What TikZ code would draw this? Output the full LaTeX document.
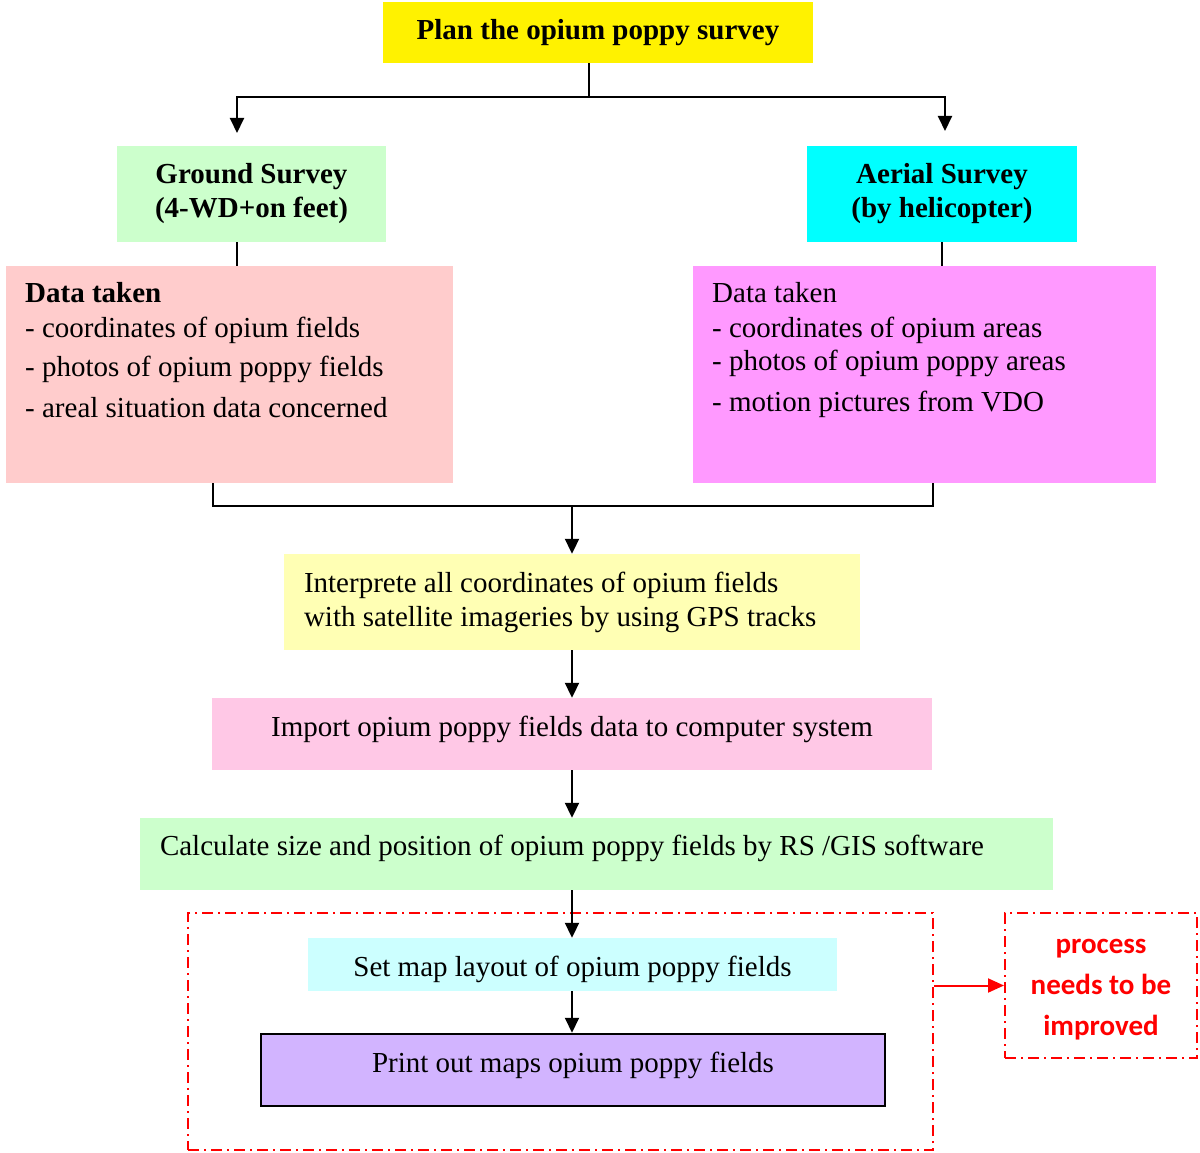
\documentclass[tikz,border=0pt]{standalone}
\usepackage{fontspec}
\setmainfont{Liberation Serif}
\newfontfamily\calibri{Carlito}
\usetikzlibrary{arrows.meta}

\definecolor{groundgreen}{HTML}{CCFFCC}
\definecolor{aerialcyan}{HTML}{00FFFF}
\definecolor{datapink}{HTML}{FFCCCC}
\definecolor{datamagenta}{HTML}{FF99FF}
\definecolor{interpyellow}{HTML}{FFFFB4}
\definecolor{importpink}{HTML}{FFC8E6}
\definecolor{layoutcyan}{HTML}{CCFFFF}
\definecolor{printviolet}{HTML}{D2B4FF}

\begin{document}
\begin{tikzpicture}[x=1pt, y=-1pt,
	box/.style={rectangle, inner sep=0pt, align=center, font=\fontsize{29}{34}\selectfont},
	datatext/.style={inner sep=0pt, align=left, anchor=north west, font=\fontsize{29}{34}\selectfont},
	line/.style={line width=2pt, color=black},
	arr/.style={line width=2pt, color=black, -{Triangle[length=15pt, width=14pt]}},
	redline/.style={line width=2pt, color=red, dash pattern=on 11pt off 5pt on 2pt off 5pt}]

	\useasboundingbox (0,0) rectangle (1200,1153);

	% survey planning and the two surveys
	\node[box, fill=yellow, minimum width=430pt, minimum height=61pt, font=\fontsize{29}{34}\selectfont\bfseries](plan) at (598,32.5){Plan the opium poppy survey};
	\node[box, fill=groundgreen, minimum width=269pt, minimum height=96pt, font=\fontsize{29}{34}\selectfont\bfseries](ground) at (251.5,194){Ground Survey\\(4-WD+on feet)};
	\node[box, fill=aerialcyan, minimum width=270pt, minimum height=96pt, font=\fontsize{29}{34}\selectfont\bfseries](aerial) at (942,194){Aerial Survey\\(by helicopter)};

	% data taken
	\node[box, fill=datapink, minimum width=447pt, minimum height=217pt](gdata) at (229.5,374.5){};
	\node[box, fill=datamagenta, minimum width=463pt, minimum height=217pt](adata) at (924.5,374.5){};
	\node[datatext](gtext) at (25,282){\textbf{Data taken}\\[1pt]- coordinates of opium fields\\[5pt]- photos of opium poppy fields\\[7pt]- areal situation data concerned};
	\node[datatext](atext) at (712,282){Data taken\\[1pt]- coordinates of opium areas\\[-1pt]- photos of opium poppy areas\\[7pt]- motion pictures from VDO};

	% processing chain
	\node[box, fill=interpyellow, minimum width=576pt, minimum height=96pt, text width=536pt, inner xsep=20pt, align=flush left](interp) at (572,602){Interprete all coordinates of opium fields\\with satellite imageries by using GPS tracks};
	\node[box, fill=importpink, minimum width=720pt, minimum height=72pt, text depth=16pt](import) at (572,734){Import opium poppy fields data to computer system};
	\node[box, fill=groundgreen, minimum width=913pt, minimum height=72pt, text width=873pt, inner xsep=20pt, align=flush left, text depth=18pt](calc) at (596.5,854){Calculate size and position of opium poppy fields by RS /GIS software};
	\node[redline, draw, minimum width=745pt, minimum height=237pt](zone) at (560.5,1031.5){};
	\node[box, fill=layoutcyan, minimum width=529pt, minimum height=53pt, text height=30pt](layout) at (572.5,964.5){Set map layout of opium poppy fields};
	\node[box, fill=printviolet, draw=black, line width=2.5pt, minimum width=624pt, minimum height=72pt, text depth=16pt](print) at (573,1070){Print out maps opium poppy fields};
	\node[redline, draw, minimum width=192pt, minimum height=145pt, align=center, text=red, font=\calibri\fontsize{29}{41}\selectfont\bfseries](note) at (1101,985.5){\rule{0pt}{22pt}process\\needs to be\\improved};

	% connectors
	\coordinate (fork) at (589,97);
	\coordinate (gtip) at (237,133);
	\coordinate (atip) at (945,131);
	\coordinate (gdrop) at (237,0);
	\coordinate (adrop) at (942,0);
	\coordinate (ljoin) at (213,506);
	\coordinate (rjoin) at (933,506);
	\coordinate (join) at (572,506);

	\draw[line] (plan.south -| fork) -- (fork);
	\draw[arr] (fork) -| (gtip);
	\draw[arr] (fork) -| (atip);
	\draw[line] (ground.south -| gdrop) -- (gdata.north -| gdrop);
	\draw[line] (aerial.south -| adrop) -- (adata.north -| adrop);
	\draw[line] (gdata.south -| ljoin) -- (ljoin) -- (rjoin) -- (adata.south -| rjoin);
	\draw[arr] (join) -- (interp.north);
	\draw[arr] (interp.south) -- (import.north);
	\draw[arr] (import.south) -- (calc.north -| join);
	\draw[arr] (calc.south -| join) -- (layout.north -| join);
	\draw[arr] (layout.south -| join) -- (print.north -| join);
	\draw[line, color=red, -{Triangle[length=16pt, width=14pt]}] (note.west -| zone.east) -- (note.west);

\end{tikzpicture}
\end{document}
